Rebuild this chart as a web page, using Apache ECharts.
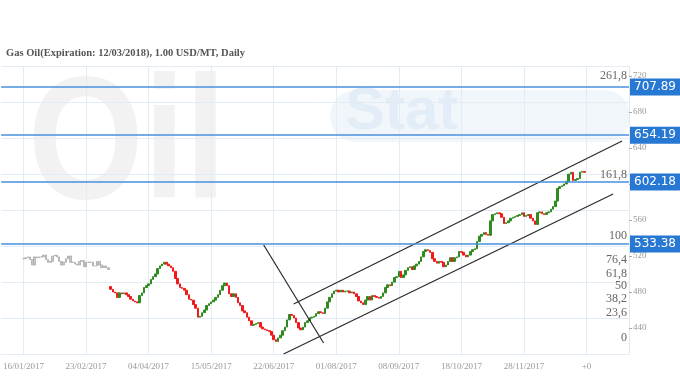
<!DOCTYPE html>
<html><head><meta charset="utf-8">
<script src="https://cdn.jsdelivr.net/npm/echarts@6/dist/echarts.min.js"></script>
<style>html,body{margin:0;padding:0;background:#fff}#c{width:680px;height:380px}</style>
</head><body><div id="c"></div>
<script>
const title = 'Gas Oil(Expiration: 12/03/2018), 1.00 USD/MT, Daily';
const tickLabels = ['16/01/2017','23/02/2017','04/04/2017','15/05/2017','22/06/2017','01/08/2017','08/09/2017','18/10/2017','28/11/2017','+0'];
const leadSlots = 10;
const totalSlots = 282;
const labelStep = 28;
const yTicks = [440,480,520,560,600,640,680,720];
const yMin = 411.1, yMax = 731.1;

// faint pre-history candles (closes)
const grayCloses = [517,518,519,516,510,519,518,519,519,521,516,513,514,520,521,519,514,510,513,517,520,513,513,511,510,514,515,508,513,513,513,509,509,514,510,507,509,507,505];
// main candles (closes), starting right after the gray ones
const firstOpen = 486;
const closes = [
483,480,479,474,479,478,479,477,475,472,
470,469,468,476,479,485,487,489,494,497,
500,506,509,511,513,511,509,507,503,495,
489,485,484,482,477,472,471,466,462,452,
453,457,460,465,467,469,471,474,477,482,
487,490,487,478,475,478,474,468,465,459,
457,452,448,443,444,445,446,441,439,438,
437,436,432,427,425,429,432,437,441,449,
455,454,451,446,440,438,441,446,448,451,
452,453,456,458,457,456,462,469,474,478,
481,482,480,482,480,481,481,479,480,478,
475,470,468,466,471,475,471,476,475,474,
473,475,479,485,488,487,491,496,497,503,
496,499,504,507,508,505,509,511,514,519,
525,527,526,524,517,514,512,514,513,508,
510,514,518,514,518,519,525,524,521,519,
521,525,527,528,536,542,544,546,544,543,
559,566,567,568,567,563,556,557,559,562,
563,564,565,566,568,564,565,566,562,559,
555,568,569,567,566,568,569,572,575,581,
595,597,598,600,603,611,613,604,605,606,
613,614,613];

const levelValues = [707.89, 654.19, 602.18, 533.38];
const fibNames = ['0','23,6','38,2','50','61,8','76,4','100','161,8','261,8'];
const fibValues = [420,448,464,478,491,507,533.4,601,711];
const channelUpper = [[130.9,466.6],[277.9,647.7]];
const channelLower = [[126.4,411.1],[273.9,588.8]];
const crossLine = [[117.5,532.2],[144.3,423.3]];

// build tables
const cats = [];
const labelMap = {};
for (let i = 0; i < totalSlots; i++) cats.push('c' + i);
tickLabels.forEach((t, k) => { labelMap[leadSlots + k * labelStep] = t; });
const isLabelIdx = (i) => labelMap[i] !== undefined;
const empty = ['-','-','-','-'];
function toCandle(o, c) { return [o, c, Math.min(o, c), Math.max(o, c)]; }
const grayData = [];
for (let i = 0; i < leadSlots; i++) grayData.push(empty);
grayCloses.forEach((c, i) => grayData.push(toCandle(i === 0 ? c : grayCloses[i - 1], c)));
const mainData = [];
for (let i = 0; i < leadSlots + grayCloses.length; i++) mainData.push(empty);
closes.forEach((c, i) => mainData.push(toCandle(i === 0 ? firstOpen : closes[i - 1], c)));

const serif = '"Liberation Serif", "DejaVu Serif", serif';
const markData = [];
levelValues.forEach(v => markData.push({
  yAxis: v,
  lineStyle: {color: '#4a8fdb', width: 1.5, type: 'solid'},
  label: {show: true, position: 'end', distance: 1, formatter: v.toFixed(2), color: '#fff',
    backgroundColor: '#2778d2', padding: [3, 4, 2, 4], fontSize: 12, fontFamily: '"DejaVu Sans", sans-serif'}
}));
fibNames.forEach((n, k) => markData.push({
  yAxis: fibValues[k],
  lineStyle: {color: 'rgba(0,0,0,0)', width: 0},
  label: {show: true, position: 'insideEndTop', distance: 2, formatter: n, color: '#666',
    fontSize: 12, fontFamily: serif}
}));

const chart = echarts.init(document.getElementById('c'), null, {renderer: 'canvas'});
chart.setOption({
  animation: false,
  backgroundColor: '#fff',
  title: {text: title, left: 1, top: 43, textStyle: {fontSize: 10.5, fontWeight: 'bold', color: '#555', fontFamily: serif}},
  graphic: [
    {type: 'text', left: 28, top: 62, z: -10, silent: true, scaleX: 0.85,
      style: {text: 'Oil', font: 'bold 175px "Liberation Sans"', fill: '#f2f2f2'}},
    {type: 'rect', z: -10, silent: true, shape: {x: 330, y: 90, width: 300, height: 52, r: 26}, style: {fill: '#f1f6fb'}},
    {type: 'text', left: 345, top: 82, z: -9, silent: true,
      style: {text: 'Stat', font: 'bold 60px "Liberation Sans"', fill: '#e3edf7'}}
  ],
  grid: {left: 0, right: 51, top: 66, bottom: 26, containLabel: false},
  xAxis: [
    {type: 'category', data: cats, boundaryGap: false,
      axisLine: {show: true, onZero: false, lineStyle: {color: '#e3ecf5'}},
      axisTick: {show: false},
      axisLabel: {interval: (i) => isLabelIdx(i), formatter: (v, i) => labelMap[i] || '', color: '#999', fontSize: 9, fontFamily: serif, margin: 8},
      splitLine: {show: true, interval: (i) => isLabelIdx(i), lineStyle: {color: '#e3ecf5'}}},
    {type: 'value', min: 0, max: totalSlots - 1, show: false}
  ],
  yAxis: [
    {type: 'value', position: 'right', min: yMin, max: yMax,
      axisLine: {show: true, onZero: false, lineStyle: {color: '#dfe9f4'}},
      axisTick: {show: true, length: 3, customValues: yTicks, lineStyle: {color: '#aaa'}},
      axisLabel: {customValues: yTicks, color: '#999', fontSize: 9, fontFamily: serif, margin: 4},
      splitLine: {show: false}},
    {type: 'value', position: 'right', min: yMin, max: yMax, interval: 40, show: true,
      axisLine: {show: false, onZero: false}, axisTick: {show: false}, axisLabel: {show: false},
      splitLine: {show: true, lineStyle: {color: '#e3ecf5'}}}
  ],
  series: [
    {type: 'candlestick', name: 'pre', xAxisIndex: 0, yAxisIndex: 0, data: grayData, barWidth: 2,
      itemStyle: {color: '#bbb', color0: '#bbb', borderColor: '#aaa', borderColor0: '#aaa', opacity: 0.8}},
    {type: 'candlestick', name: 'price', xAxisIndex: 0, yAxisIndex: 0, data: mainData, barWidth: 2,
      itemStyle: {color: '#2f8a1f', color0: '#f01a1a', borderColor: '#2f8a1f', borderColor0: '#f01a1a', borderWidth: 1},
      markLine: {silent: true, symbol: ['none', 'none'], animation: false, data: markData}},
    {type: 'line', xAxisIndex: 1, yAxisIndex: 0, data: channelUpper, symbol: 'none', lineStyle: {color: '#2a2a2a', width: 1.2}},
    {type: 'line', xAxisIndex: 1, yAxisIndex: 0, data: channelLower, symbol: 'none', lineStyle: {color: '#2a2a2a', width: 1.2}},
    {type: 'line', xAxisIndex: 1, yAxisIndex: 0, data: crossLine, symbol: 'none', lineStyle: {color: '#2a2a2a', width: 1.2}}
  ]
});
</script>
</body></html>
